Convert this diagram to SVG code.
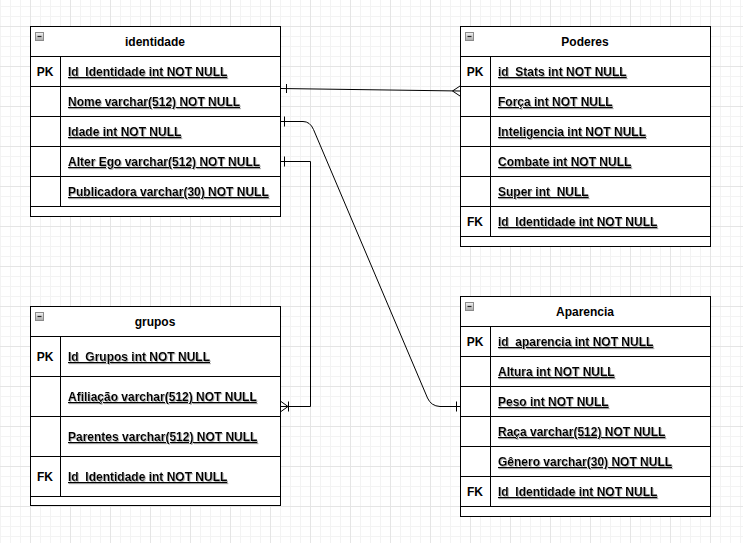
<svg xmlns="http://www.w3.org/2000/svg" width="743" height="543" viewBox="0 0 743 543">
<defs>
<pattern id="grid" patternUnits="userSpaceOnUse" x="30" y="26" width="40" height="40">
<path d="M10.5,0V40M20.5,0V40M30.5,0V40M0,10.5H40M0,20.5H40M0,30.5H40" stroke="#f3f3f3" stroke-width="1" fill="none"/>
<path d="M0.5,0V40M0,0.5H40" stroke="#e5e5e5" stroke-width="1" fill="none"/>
</pattern>
<linearGradient id="icg" x1="0" y1="0" x2="0" y2="1">
<stop offset="0" stop-color="#f4f4f4"/>
<stop offset="1" stop-color="#a8a8a8"/>
</linearGradient>
<filter id="sh" x="-5%" y="-20%" width="110%" height="150%">
<feDropShadow dx="1" dy="1" stdDeviation="0.4" flood-color="#808080" flood-opacity="0.6"/>
</filter>
<g id="icon">
<rect x="0.5" y="0.5" width="8" height="8" fill="url(#icg)" stroke="#8a8a8a"/>
<path d="M2.5,4.5H6.5" stroke="#222" stroke-width="1.2"/>
</g>
</defs>
<style>
.box{fill:#fff;stroke:#000;stroke-width:1}
.ln{stroke:#000;stroke-width:1;fill:none}
.hd{font-family:"Liberation Sans",Arial,sans-serif;font-size:12px;font-weight:bold;fill:#000;text-anchor:middle}
.k{font-family:"Liberation Sans",Arial,sans-serif;font-size:12px;font-weight:bold;fill:#000;text-anchor:middle}
.f{font-family:"Liberation Sans",Arial,sans-serif;font-size:12px;font-weight:bold;fill:#000;text-decoration:underline;filter:url(#sh);white-space:pre}
.c{stroke:#000;stroke-width:1;fill:none}
</style>
<rect width="743" height="543" fill="#fff"/>
<rect width="743" height="543" fill="url(#grid)"/>

<g id="identidade">
<rect class="box" x="30.5" y="26.5" width="250" height="190"/>
<path class="ln" d="M30.5,56.5H280.5M30.5,86.5H280.5M30.5,116.5H280.5M30.5,146.5H280.5M30.5,176.5H280.5M30.5,206.5H280.5M60.5,56.5V206.5"/>
<use href="#icon" x="35" y="32"/>
<text class="hd" x="155" y="46">identidade</text>
<text class="k" x="45" y="76">PK</text>
<text class="f" x="68" y="76">Id_Identidade int NOT NULL</text>
<text class="f" x="68" y="106">Nome varchar(512) NOT NULL</text>
<text class="f" x="68" y="136">Idade int NOT NULL</text>
<text class="f" x="68" y="166">Alter Ego varchar(512) NOT NULL</text>
<text class="f" x="68" y="196">Publicadora varchar(30) NOT NULL</text>
</g>

<g id="poderes">
<rect class="box" x="460.5" y="26.5" width="250" height="220"/>
<path class="ln" d="M460.5,56.5H710.5M460.5,86.5H710.5M460.5,116.5H710.5M460.5,146.5H710.5M460.5,176.5H710.5M460.5,206.5H710.5M460.5,236.5H710.5M490.5,56.5V236.5"/>
<use href="#icon" x="465" y="32"/>
<text class="hd" x="585" y="46">Poderes</text>
<text class="k" x="475" y="76">PK</text>
<text class="f" x="498" y="76">id_Stats int NOT NULL</text>
<text class="f" x="498" y="106">Força int NOT NULL</text>
<text class="f" x="498" y="136">Inteligencia int NOT NULL</text>
<text class="f" x="498" y="166">Combate int NOT NULL</text>
<text class="f" x="498" y="196" xml:space="preserve">Super int  NULL</text>
<text class="k" x="475" y="226">FK</text>
<text class="f" x="498" y="226">Id_Identidade int NOT NULL</text>
</g>

<g id="grupos">
<rect class="box" x="30.5" y="306.5" width="250" height="199"/>
<path class="ln" d="M30.5,336.5H280.5M30.5,376.5H280.5M30.5,416.5H280.5M30.5,456.5H280.5M30.5,496.5H280.5M60.5,336.5V496.5"/>
<use href="#icon" x="35" y="312"/>
<text class="hd" x="155" y="326">grupos</text>
<text class="k" x="45" y="361">PK</text>
<text class="f" x="68" y="361">Id_Grupos int NOT NULL</text>
<text class="f" x="68" y="401">Afiliação varchar(512) NOT NULL</text>
<text class="f" x="68" y="441">Parentes varchar(512) NOT NULL</text>
<text class="k" x="45" y="481">FK</text>
<text class="f" x="68" y="481">Id_Identidade int NOT NULL</text>
</g>

<g id="aparencia">
<rect class="box" x="460.5" y="296.5" width="250" height="220"/>
<path class="ln" d="M460.5,326.5H710.5M460.5,356.5H710.5M460.5,386.5H710.5M460.5,416.5H710.5M460.5,446.5H710.5M460.5,476.5H710.5M460.5,506.5H710.5M490.5,326.5V506.5"/>
<use href="#icon" x="465" y="302"/>
<text class="hd" x="585" y="316">Aparencia</text>
<text class="k" x="475" y="346">PK</text>
<text class="f" x="498" y="346">id_aparencia int NOT NULL</text>
<text class="f" x="498" y="376">Altura int NOT NULL</text>
<text class="f" x="498" y="406">Peso int NOT NULL</text>
<text class="f" x="498" y="436">Raça varchar(512) NOT NULL</text>
<text class="f" x="498" y="466">Gênero varchar(30) NOT NULL</text>
<text class="k" x="475" y="496">FK</text>
<text class="f" x="498" y="496">Id_Identidade int NOT NULL</text>
</g>

<g id="connectors">
<path class="c" d="M281,88.5L460,91"/>
<path class="c" d="M286.5,84V93"/>
<path class="c" d="M460,86L452.5,91L460,96"/>
<path class="c" d="M281,121.5H303Q310,121.5 313.5,129.5L427.5,398Q431,406 440,406.5H460"/>
<path class="c" d="M284.5,116.5V126.5"/>
<path class="c" d="M456.5,401.5V411.5"/>
<path class="c" d="M281,161.5H310.5V406.5H281"/>
<path class="c" d="M284.5,156.5V166.5"/>
<path class="c" d="M281,401.5L288,406.5L281,411.5"/>
<path class="c" d="M288.5,401.5V411.5"/>
</g>
</svg>
